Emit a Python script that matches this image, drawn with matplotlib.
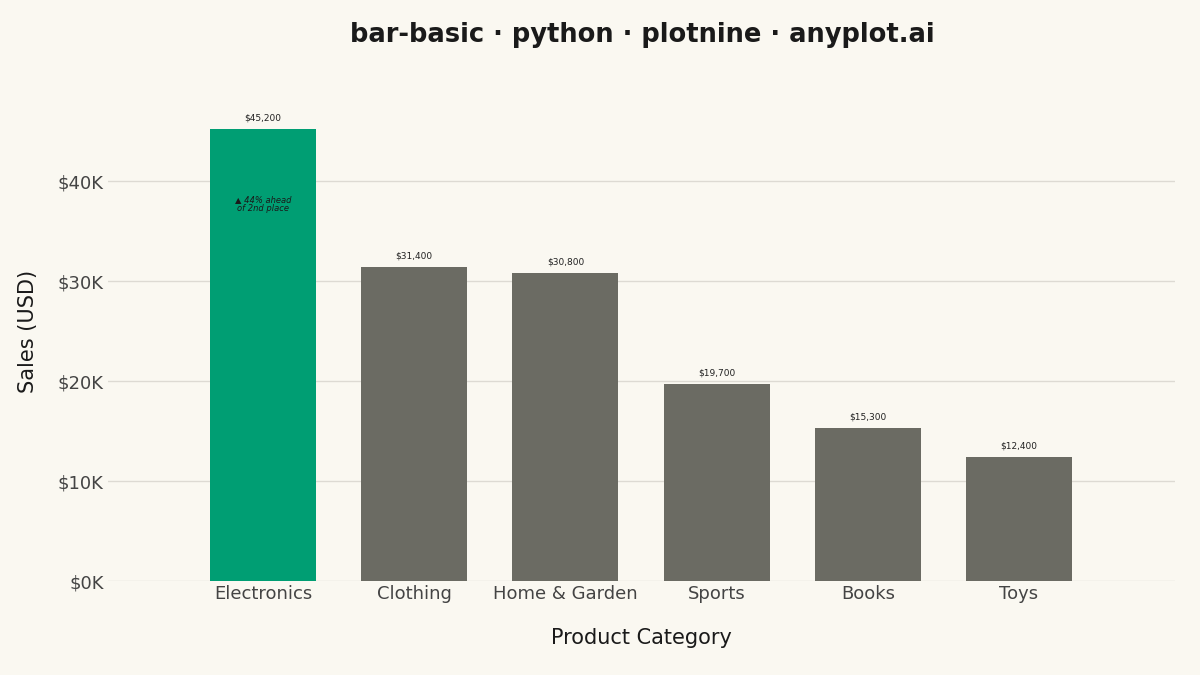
import matplotlib
matplotlib.use("Agg")
import matplotlib.pyplot as plt
from matplotlib.ticker import FuncFormatter

categories = ["Electronics", "Clothing", "Home & Garden", "Sports", "Books", "Toys"]
sales = [45200, 31400, 30800, 19700, 15300, 12400]

bg = "#FAF8F1"
fig = plt.figure(figsize=(12, 6.75), dpi=100, facecolor=bg)
ax = fig.add_axes([0.09, 0.139, 0.889, 0.741], facecolor=bg)
x = list(range(len(categories)))
colors = ["#009E73"] + ["#6B6B63"] * (len(categories) - 1)
ax.bar(x, sales, width=0.7, color=colors, zorder=2)
for xi, v in zip(x, sales):
    ax.text(xi, v + 700, f"${v:,}", ha="center", va="bottom", fontsize=6.5, color="#222222")
ax.text(0, 37700, "▲ 44% ahead\nof 2nd place", ha="center", va="center", fontsize=6,
        style="italic", color="#1a1a1a", linespacing=1.0)
ax.set_xlim(-1.025, 6.03)
ax.set_ylim(0, 50000)
ax.set_yticks([0, 10000, 20000, 30000, 40000])
ax.yaxis.set_major_formatter(FuncFormatter(lambda v, p: f"${int(v/1000)}K"))
ax.set_xticks(x)
ax.set_xticklabels(categories)
ax.grid(axis="y", color="#DDDAD3", linewidth=1, zorder=0)
for s in ax.spines.values():
    s.set_visible(False)
ax.tick_params(length=0, labelsize=13, colors="#444444", pad=3)
ax.set_xlabel("Product Category", fontsize=15, color="#1a1a1a", labelpad=18)
ax.set_ylabel("Sales (USD)", fontsize=15, color="#1a1a1a", labelpad=14)
fig.text(0.535, 0.948, "bar-basic · python · plotnine · anyplot.ai", ha="center", va="center",
         fontsize=18.5, fontweight="bold", color="#1a1a1a")
fig.savefig("out.png", facecolor=bg)
